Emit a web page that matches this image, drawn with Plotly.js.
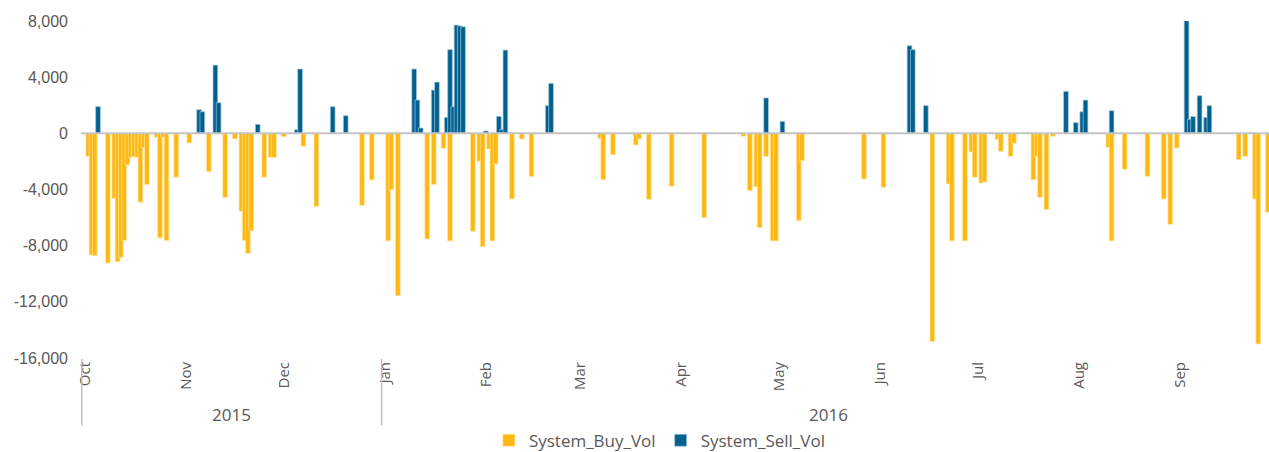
<!DOCTYPE html>
<html>
<head>
<meta charset="utf-8">
<script src="https://cdn.plot.ly/plotly-3.0.1.min.js"></script>
<style>
  html, body { margin: 0; padding: 0; background: #ffffff; }
  #chart { width: 1269px; height: 452px; }
</style>
</head>
<body>
<div id="chart"></div>
<script>
// ---- data ----
const buyDates = [
  "2015-10-02","2015-10-03","2015-10-04","2015-10-08","2015-10-10","2015-10-11","2015-10-12","2015-10-13",
  "2015-10-14","2015-10-15","2015-10-16","2015-10-17","2015-10-18","2015-10-19","2015-10-20","2015-10-23",
  "2015-10-24","2015-10-25","2015-10-26","2015-10-29","2015-11-02","2015-11-08","2015-11-13","2015-11-16",
  "2015-11-18","2015-11-19","2015-11-20","2015-11-21","2015-11-25","2015-11-27","2015-11-28","2015-12-01",
  "2015-12-07","2015-12-11","2015-12-25","2015-12-28","2016-01-02","2016-01-03","2016-01-05","2016-01-14",
  "2016-01-16","2016-01-19","2016-01-21","2016-01-28","2016-01-30","2016-01-31","2016-02-02","2016-02-03",
  "2016-02-04","2016-02-09","2016-02-12","2016-02-15","2016-03-07","2016-03-08","2016-03-11","2016-03-18",
  "2016-03-19","2016-03-22","2016-03-29","2016-04-08","2016-04-20","2016-04-22","2016-04-24","2016-04-25",
  "2016-04-27","2016-04-29","2016-04-30","2016-05-07","2016-05-08","2016-05-27","2016-06-02","2016-06-17",
  "2016-06-22","2016-06-23","2016-06-27","2016-06-29","2016-06-30","2016-07-02","2016-07-03","2016-07-07",
  "2016-07-08","2016-07-11","2016-07-12","2016-07-18","2016-07-19","2016-07-20","2016-07-22","2016-07-24",
  "2016-08-10","2016-08-11","2016-08-15","2016-08-22","2016-08-27","2016-08-29","2016-08-31","2016-09-19",
  "2016-09-21","2016-09-24","2016-09-25","2016-09-28"
];
const buyVals = [
  -1640,-8660,-8710,-9230,-4630,-9140,-8830,-7640,
  -2250,-1710,-1660,-1700,-4910,-1000,-3650,-285,
  -7450,-285,-7640,-3130,-690,-2730,-4560,-400,
  -5550,-7640,-8540,-6930,-3130,-1710,-1710,-240,
  -925,-5200,-5130,-3320,-7660,-4010,-11560,-7520,
  -3650,-1070,-7660,-6980,-1990,-8070,-1115,-7660,
  -2180,-4670,-400,-3080,-360,-3300,-1520,-830,
  -400,-4700,-3770,-6000,-210,-4080,-3800,-6720,
  -1640,-7660,-7660,-6220,-1950,-3250,-3840,-14830,
  -3610,-7660,-7660,-1330,-3130,-3540,-3460,-430,
  -1280,-1640,-710,-3300,-1640,-4560,-5430,-210,
  -1000,-7660,-2560,-3060,-4670,-6480,-1040,-1870,
  -1640,-4670,-15000,-5620
];
const sellDates = [
  "2015-10-05","2015-11-05","2015-11-06","2015-11-10","2015-11-11","2015-11-23","2015-12-05","2015-12-06",
  "2015-12-16","2015-12-20","2016-01-10","2016-01-11","2016-01-12","2016-01-16","2016-01-17","2016-01-20",
  "2016-01-21","2016-01-22","2016-01-23","2016-01-24","2016-01-25","2016-02-01","2016-02-05","2016-02-06",
  "2016-02-07","2016-02-20","2016-02-21","2016-04-27","2016-05-02","2016-06-10","2016-06-11","2016-06-15",
  "2016-07-28","2016-07-31","2016-08-02","2016-08-03","2016-08-11","2016-09-03","2016-09-04","2016-09-05",
  "2016-09-07","2016-09-09","2016-09-10"
];
const sellVals = [
  1900,1680,1540,4860,2180,640,260,4580,
  1900,1260,4580,2370,380,3080,3650,1140,
  5960,1900,7710,7650,7590,170,1210,280,
  5930,1970,3560,2520,850,6240,5960,1970,
  2990,760,1540,2370,1610,8020,1000,1190,
  2680,1140,1970
];
const seriesNames = ["System_Buy_Vol", "System_Sell_Vol"];
const yTickVals = [-16000, -12000, -8000, -4000, 0, 4000, 8000];
const yTickText = ["-16,000", "-12,000", "-8,000", "-4,000", "0", "4,000", "8,000"];
const yearLabels = ["2015", "2016"];
const yearLabelDates = ["2015-11-15", "2016-05-16"];
const yearBoundaryDates = ["2015-09-30", "2015-12-31"];

// ---- styling ----
const BUY_COLOR = "#FDB813";
const SELL_COLOR = "#00608F";
const TEXT_COLOR = "#595959";
const DAY_MS = 86400000;
const BAR_WIDTH = 1.45 * DAY_MS;

const traces = [
  {
    type: "bar",
    name: seriesNames[0],
    x: buyDates,
    y: buyVals,
    width: buyDates.map(() => BAR_WIDTH),
    marker: { color: BUY_COLOR, line: { color: "#FFE6A3", width: 0.7 } },
    hoverinfo: "x+y"
  },
  {
    type: "bar",
    name: seriesNames[1],
    x: sellDates,
    y: sellVals,
    width: sellDates.map(() => BAR_WIDTH),
    marker: { color: SELL_COLOR, line: { color: "#A9C9DB", width: 0.7 } },
    hoverinfo: "x+y"
  }
];

const shapes = [
  {
    type: "line", xref: "paper", yref: "y",
    x0: 0, x1: 1, y0: 0, y1: 0,
    line: { color: "#C4C4C4", width: 2 },
    layer: "above"
  }
].concat(yearBoundaryDates.map(d => ({
  type: "line", xref: "x", yref: "paper",
  x0: d, x1: d, y0: -0.003, y1: -0.2,
  line: { color: "#BFBFBF", width: 1.5 }
})));

const annotations = yearLabels.map((t, i) => ({
  text: t, x: yearLabelDates[i], y: -0.168,
  xref: "x", yref: "paper", showarrow: false,
  xanchor: "center", yanchor: "middle",
  font: { family: "Open Sans, sans-serif", size: 17, color: TEXT_COLOR }
}));

const layout = {
  width: 1269,
  height: 452,
  autosize: false,
  margin: { l: 81, r: 0, t: 21, b: 94, pad: 0, autoexpand: false },
  paper_bgcolor: "#ffffff",
  plot_bgcolor: "#ffffff",
  barmode: "overlay",
  bargap: 0,
  showlegend: true,
  legend: {
    orientation: "h",
    xref: "container", yref: "container",
    x: 0.52, xanchor: "center",
    y: 0.025, yanchor: "middle",
    font: { family: "Open Sans, sans-serif", size: 17, color: TEXT_COLOR },
    itemclick: false
  },
  xaxis: {
    type: "date",
    range: ["2015-09-29 18:33", "2016-09-28 07:12"],
    tick0: "2015-10-01",
    dtick: "M1",
    tickformat: "%b",
    tickangle: -90,
    ticks: "",
    showgrid: false,
    showline: false,
    zeroline: false,
    automargin: false,
    tickfont: { family: "Open Sans, sans-serif", size: 15, color: TEXT_COLOR }
  },
  yaxis: {
    range: [-16000, 8000],
    tickvals: yTickVals,
    ticktext: yTickText,
    showgrid: false,
    showline: false,
    zeroline: false,
    automargin: false,
    ticks: "",
    ticklabelstandoff: 12,
    tickfont: { family: "Liberation Sans, Arial, sans-serif", size: 16, color: TEXT_COLOR }
  },
  shapes: shapes,
  annotations: annotations
};

Plotly.newPlot("chart", traces, layout, { displayModeBar: false, staticPlot: true });
</script>
</body>
</html>
